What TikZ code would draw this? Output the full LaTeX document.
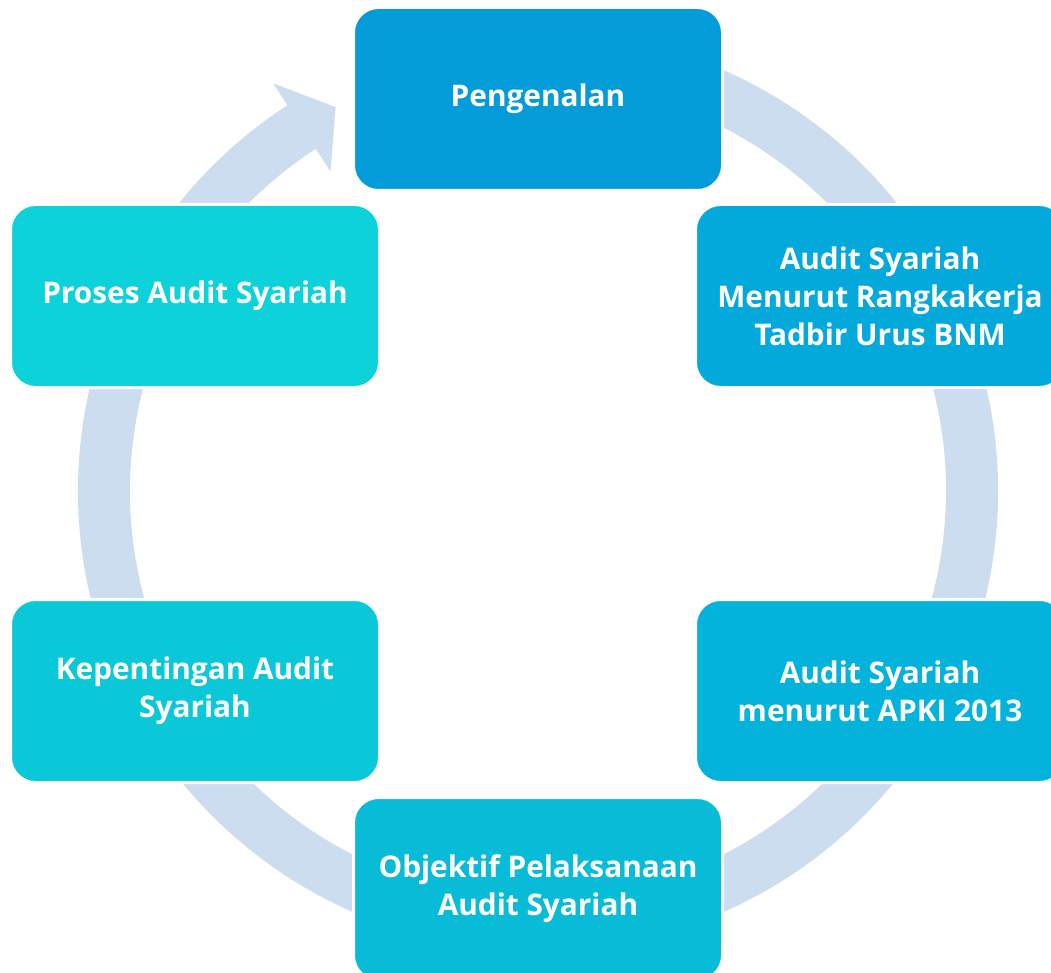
\documentclass[tikz,border=0pt]{standalone}
\usepackage{fontspec}
\setmainfont{Open Sans}
\usetikzlibrary{calc}

\definecolor{ringblue}{HTML}{CCDDEF}
\definecolor{stageA}{HTML}{049CD8}
\definecolor{stageB}{HTML}{03A9DB}
\definecolor{stageC}{HTML}{04B3DB}
\definecolor{stageD}{HTML}{08BCD8}
\definecolor{stageE}{HTML}{0AC8D8}
\definecolor{stageF}{HTML}{0DD2DA}

\begin{document}
\begin{tikzpicture}[x=1pt, y=1pt,
  stage/.style={shape=rectangle, rounded corners=25pt, draw=white, line width=3pt,
    minimum width=369pt, minimum height=183pt, text=white, align=center,
    font=\fontsize{29.8}{38}\selectfont\bfseries}]
\useasboundingbox (0,0) rectangle (1051,-973);
\coordinate (C) at (538,-491);
% ring with arrow head
\fill[ringblue] ($(C)+(110:460)$) arc[start angle=110, end angle=-237, radius=460]
  -- ($(C)+(-237:486)$) -- ($(C)+(-242.2:434)$) -- ($(C)+(-237:381)$)
  -- ($(C)+(-237:408)$) arc[start angle=-237, end angle=110, radius=408] -- cycle;
% stages
\node[stage, fill=stageA] (P1) at (538,-99) {Pengenalan};
\node[stage, fill=stageB] (P2) at (880,-296) {Audit Syariah\\Menurut Rangkakerja\\Tadbir Urus BNM};
\node[stage, fill=stageC] (P3) at (880,-691) {Audit Syariah\\menurut APKI 2013};
\node[stage, fill=stageD] (P4) at (538,-889) {Objektif Pelaksanaan\\Audit Syariah};
\node[stage, fill=stageE] (P5) at (195,-691) {Kepentingan Audit\\Syariah};
\node[stage, fill=stageF] (P6) at (195,-296) {Proses Audit Syariah};
\end{tikzpicture}
\end{document}
